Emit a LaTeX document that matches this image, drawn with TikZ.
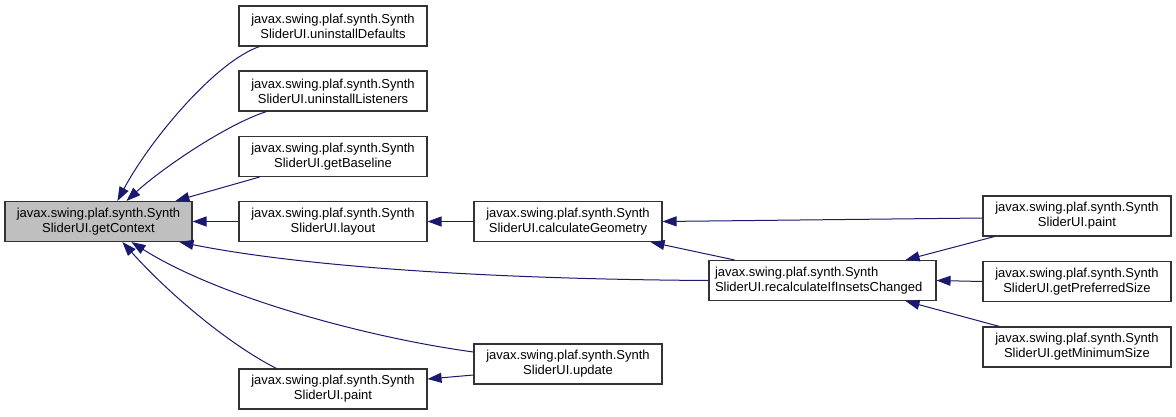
\documentclass[tikz,border=0pt]{standalone}
\usepackage{fontspec}
\setmainfont{Liberation Sans}
\usetikzlibrary{arrows.meta,calc}
\definecolor{edgec}{HTML}{191970}
\definecolor{boxgray}{HTML}{BFBFBF}
\tikzset{
  fn/.style={draw=black!80, line width=1.1pt, fill=white, rectangle, inner sep=0pt,
    minimum height=40pt, align=center, font=\fontsize{13}{15}\selectfont},
  cur/.style={fn, fill=boxgray},
  dep/.style={draw=edgec, line width=1pt, -{Triangle[length=14pt,width=10pt]}}
}
\begin{document}
\begin{tikzpicture}[x=1pt,y=-1pt]
\path[use as bounding box, fill=white] (0,0) rectangle (1176,416);
\node[cur, minimum width=187pt] (gc) at (98.5,221.5) {javax.swing.plaf.synth.Synth\\SliderUI.getContext};
\node[fn, minimum width=188pt] (ud) at (333,26) {javax.swing.plaf.synth.Synth\\SliderUI.uninstallDefaults};
\node[fn, minimum width=188pt] (ul) at (333,91) {javax.swing.plaf.synth.Synth\\SliderUI.uninstallListeners};
\node[fn, minimum width=188pt] (gb) at (333,156.5) {javax.swing.plaf.synth.Synth\\SliderUI.getBaseline};
\node[fn, minimum width=188pt] (lay) at (333,221.5) {javax.swing.plaf.synth.Synth\\SliderUI.layout};
\node[fn, minimum width=188pt] (pl) at (333,389) {javax.swing.plaf.synth.Synth\\SliderUI.paint};
\node[fn, minimum width=188pt] (cg) at (568,221.5) {javax.swing.plaf.synth.Synth\\SliderUI.calculateGeometry};
\node[fn, minimum width=188pt] (up) at (568,364) {javax.swing.plaf.synth.Synth\\SliderUI.update};
\node[fn, minimum width=227pt, text width=215pt, align=left] (rc) at (822.5,280.5) {javax.swing.plaf.synth.Synth\\SliderUI.recalculateIfInsetsChanged};
\node[fn, minimum width=188pt] (pr) at (1077,216) {javax.swing.plaf.synth.Synth\\SliderUI.paint};
\node[fn, minimum width=188pt] (gp) at (1077,281.5) {javax.swing.plaf.synth.Synth\\SliderUI.getPreferredSize};
\node[fn, minimum width=188pt] (gm) at (1077,347) {javax.swing.plaf.synth.Synth\\SliderUI.getMinimumSize};
% edges into getContext
\draw[dep] ([xshift=21pt]ud.south west) .. controls (215,62) and (150,140) .. ([xshift=113pt]gc.north west);
\draw[dep] ([xshift=28pt]ul.south west) .. controls (225,125) and (160,170) .. ([xshift=122pt]gc.north west);
\draw[dep] ([xshift=21pt]gb.south west) -- ([xshift=171pt]gc.north west);
\draw[dep] (lay.west) -- (gc.east);
\draw[dep] (rc.west) .. controls (480,279) and (300,266) .. ([xshift=175pt]gc.south west);
\draw[dep] ([yshift=12pt]up.west) .. controls (370,338) and (220,298) .. ([xshift=127pt]gc.south west);
\draw[dep] ([xshift=38pt]pl.north west) .. controls (230,345) and (170,295) .. ([xshift=118pt]gc.south west);
% other edges
\draw[dep] (cg.west) -- (lay.east);
\draw[dep] ([yshift=-11pt]up.west) -- ([yshift=10pt]pl.east);
\draw[dep] ([yshift=-2pt]pr.west) -- (cg.east);
\draw[dep] ([xshift=26pt]rc.north west) -- ([xshift=-12pt]cg.south east);
\draw[dep] ([xshift=12pt]pr.south west) -- ([xshift=-31pt]rc.north east);
\draw[dep] (gp.west) -- (rc.east);
\draw[dep] ([xshift=17pt]gm.north west) -- ([xshift=-31pt]rc.south east);
\end{tikzpicture}
\end{document}
